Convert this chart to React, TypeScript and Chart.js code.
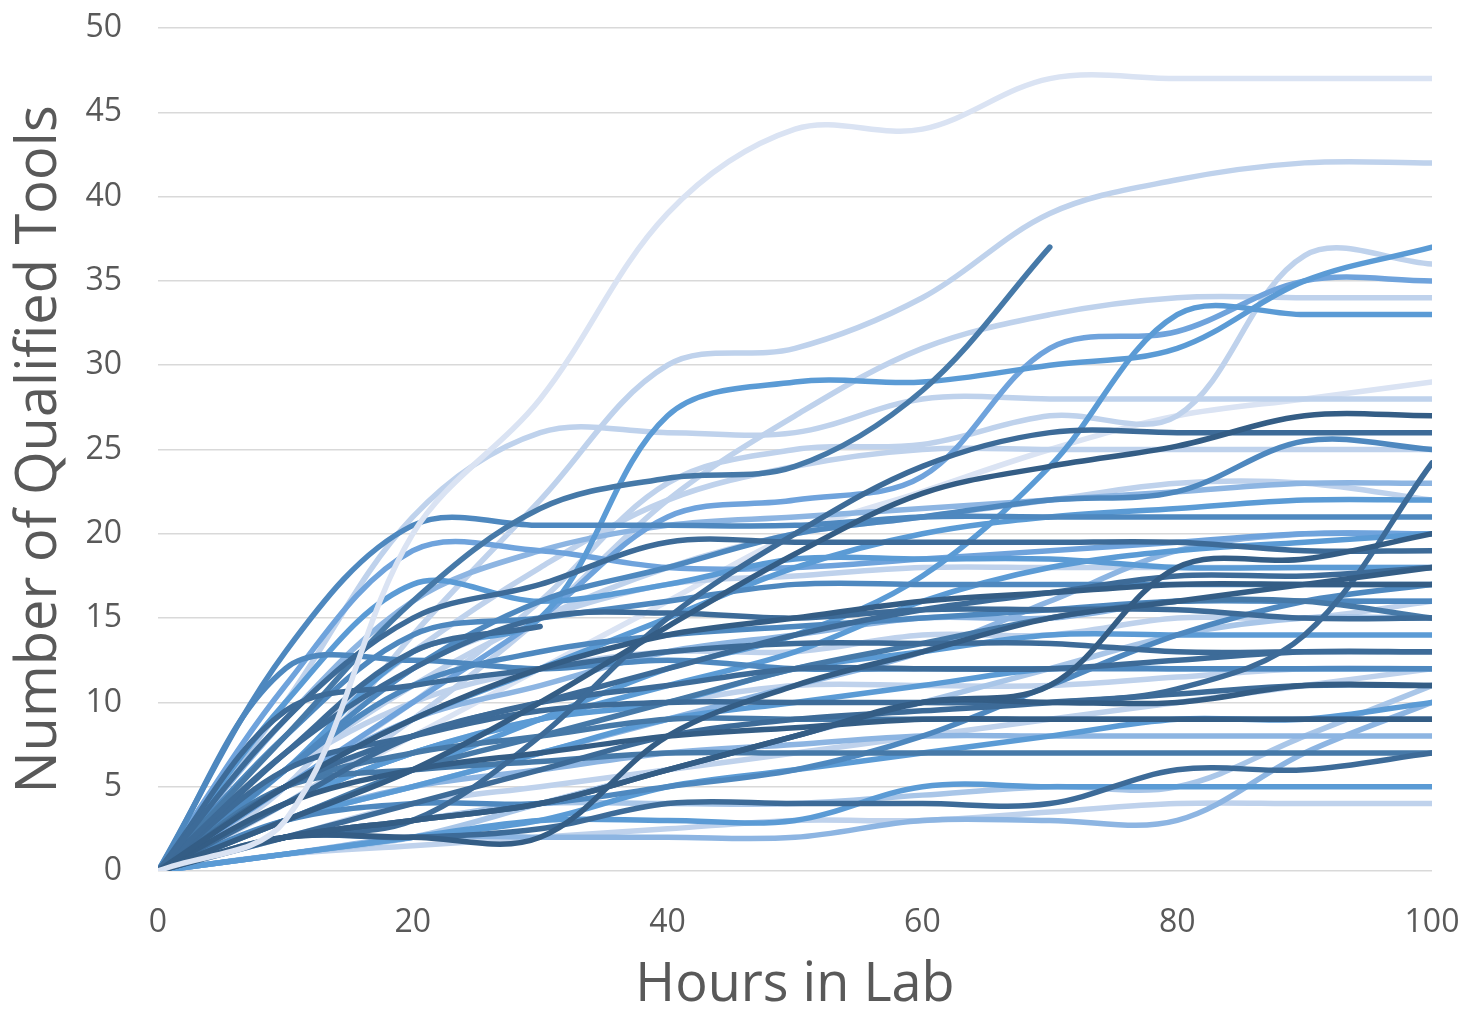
import React, { useEffect, useRef } from "react";
import { Chart, registerables } from "chart.js";

Chart.register(...registerables);

// X positions (hours) at which each run was recorded
const hours = [0, 10, 20, 30, 40, 50, 60, 70, 80, 90, 100];

// Cumulative qualified tools per run (one array per run)
const r01 = [0, 3, 20, 28, 39, 44, 44, 47, 47, 47, 47];
const r02 = [0, 5, 14, 22, 30, 31, 34, 39, 41, 42, 42];
const r03 = [0, 6, 13, 15, 27, 29, 29, 30, 31, 35, 37];
const r04 = [0, 8, 16, 21.5, 23.3, 24, 28.5, 37];
const r05 = [0, 4, 9, 15, 22, 27, 31, 33, 34, 34, 34];
const r06 = [0, 5, 10, 16, 23, 25, 25.3, 27, 27, 36.5, 36];
const r07 = [0, 5, 10, 15, 21, 22, 23.4, 31, 32, 35, 35];
const r08 = [0, 3, 6, 9, 12, 14, 17.5, 24, 33, 33, 33];
const r09 = [0, 10, 21, 26, 26, 26, 28, 28, 28, 28, 28];
const r10 = [0, 4, 8, 12, 16, 20, 22.5, 25, 27, 28, 29];
const r11 = [0, 3, 6, 10, 14.5, 18.8, 22.4, 24, 25.2, 27, 27];
const r12 = [0, 2, 3, 8, 15, 20, 24, 26, 26, 26, 26];
const r13 = [0, 6, 12, 16, 18, 20, 21, 22, 22.5, 25.5, 25];
const r14 = [0, 7, 13, 18, 22, 24, 25, 25, 25, 25, 25];
const r15 = [0, 2, 4, 6, 8, 9, 9.5, 10, 10.8, 14, 24.2];
const r16 = [0, 9, 16, 19, 20.5, 21, 21.5, 22, 22.5, 23, 23];
const r17 = [0, 6, 11, 15, 18, 20, 21, 22, 23, 23, 22];
const r18 = [0, 5, 9, 12, 15, 18, 20, 21, 21.5, 22, 22];
const r19 = [0, 13, 20.5, 20.5, 20.5, 20.5, 21, 21, 21, 21, 21];
const r20 = [0, 11, 19, 19, 18, 18, 18.5, 19, 19.5, 20, 20];
const r21 = [0, 9, 15, 17, 19.5, 19.5, 19.5, 19.5, 19.5, 19, 19];
const r22 = [0, 10, 17, 16, 17, 18.5, 18.5, 18.5, 18, 18, 18];
const r23 = [0, 6, 12, 15, 17, 17.5, 18, 18, 18, 18, 18];
const r24 = [0, 8, 14, 15, 16, 17, 17, 17, 17, 17, 17];
const r25 = [0, 2, 3, 4, 6, 8, 10, 11, 18, 18.5, 20];
const r26 = [0, 4, 7, 9, 11, 13, 16, 18, 19, 19.5, 20];
const r27 = [0, 3, 5, 7, 9, 11, 13, 16, 19, 20, 20];
const r28 = [0, 5, 9, 12, 14, 15, 16, 16.5, 17, 17, 17];
const r29 = [0, 4, 8, 10, 12, 14, 15.5, 16.5, 17.5, 17.5, 18];
const r30 = [0, 7, 12, 15, 15.3, 15, 15.5, 15.5, 15.5, 15, 15];
const r31 = [0, 6, 11, 13, 14, 14.5, 15, 15.5, 16, 16, 16];
const r32 = [0, 5, 9, 11, 13, 14, 15, 15, 16, 16, 16];
const r33 = [0, 3, 6, 8, 10, 12, 13.5, 15, 16, 16, 15];
const r34 = [0, 4, 7, 9, 10, 12, 13, 14, 14, 14, 14];
const r35 = [0, 5, 8, 10, 11, 12, 12, 12, 12.5, 13, 13];
const r36 = [0, 12, 12.5, 12, 12.5, 12, 12, 12, 12, 12, 12];
const r37 = [0, 9.5, 11, 12, 13, 13.5, 13.5, 13.5, 13, 13, 13];
const r38 = [0, 4, 7, 9, 10, 11, 11, 11, 11.5, 12, 12];
const r39 = [0, 3, 5, 7, 9, 10, 11, 12, 12, 12, 12];
const r40 = [0, 2, 3, 4, 6, 8, 10, 10, 10, 11, 11];
const r41 = [0, 6, 8, 9.5, 10, 10, 10, 10, 10.5, 11, 11];
const r42 = [0, 5, 7, 8, 9, 9, 9, 9, 9, 9, 9];
const r43 = [0, 4, 6, 7, 8, 8.5, 9, 9, 9, 9, 9];
const r44 = [0, 3, 5, 6, 7, 7.5, 8, 8, 8, 8, 8];
const r45 = [0, 1, 2, 3, 5, 6, 7, 8, 9, 9, 10];
const r46 = [0, 5, 6, 6.5, 7, 7, 7, 7, 7, 7, 7];
const r47 = [0, 2, 2, 2.5, 4, 4, 4, 4, 6, 6, 7];
const r48 = [0, 1, 2, 3, 3, 3, 5, 5, 5, 5, 5];
const r49 = [0, 1, 1.5, 2, 2.5, 3, 3, 3.5, 4, 4, 4];
const r50 = [0, 1, 2, 2, 2, 2, 3, 3, 3, 7, 10];
const r51 = [0, 2, 3, 4, 4, 4, 4.5, 5, 5, 8, 11];
const r52 = [0, 2, 4, 5, 6, 7, 8, 9, 10, 11, 12];
const r53 = [0, 2, 2, 2, 8, 11, 13, 15, 16, 17, 18];
const r54 = [0, 3, 4, 4, 5, 6, 8, 11, 14, 16, 17];
const r55 = [0, 10];
const r56 = [0, 7, 13, 14.5];
const r57 = [0, 1, 2, 4, 6, 8, 10, 12, 14, 15, 15];
const r58 = [0, 6, 10, 12, 13, 13, 14, 14, 15, 15, 16];

const runs = [
  r01, r02, r03, r04, r05, r06, r07, r08, r09, r10,
  r11, r12, r13, r14, r15, r16, r17, r18, r19, r20,
  r21, r22, r23, r24, r25, r26, r27, r28, r29, r30,
  r31, r32, r33, r34, r35, r36, r37, r38, r39, r40,
  r41, r42, r43, r44, r45, r46, r47, r48, r49, r50,
  r51, r52, r53, r54, r55, r56, r57, r58,
];

// Blue shades, dark to light
const shades = [
  "#345d85", "#3d6b98", "#4679a8", "#4e88bf", "#5b9bd5",
  "#6fa3dc", "#8db5e2", "#a9c6e8", "#bfd2ec", "#dae3f3",
];
// Shade index per run
const runShade = [
  9, 8, 4, 2, 8, 8, 5, 4, 8, 9,
  0, 1, 3, 8, 1, 6, 8, 4, 3, 5,
  1, 4, 8, 3, 0, 4, 6, 0, 1, 1,
  3, 6, 2, 4, 1, 3, 1, 8, 4, 0,
  1, 2, 0, 6, 4, 2, 1, 4, 8, 6,
  7, 8, 0, 3, 7, 1, 7, 8,
];

const xTicks = [0, 20, 40, 60, 80, 100];
const yTicks = [0, 5, 10, 15, 20, 25, 30, 35, 40, 45, 50];

const FONT = "'Open Sans', 'DejaVu Sans', sans-serif";
const TEXT = "#595959";

export default function App() {
  const ref = useRef<HTMLCanvasElement | null>(null);

  useEffect(() => {
    const canvas = ref.current;
    if (!canvas) return;
    // draw order: lightest top run first (on top), then darker runs above lighter ones
    const idx = runs.map((_, i) => i).sort((a, b) => {
      if (a === 0) return -1;
      if (b === 0) return 1;
      return runShade[a] - runShade[b];
    });
    const datasets = idx.map((i) => ({
      label: "run " + (i + 1),
      data: runs[i].map((v, j) => ({ x: hours[j], y: v })),
      borderColor: shades[runShade[i]],
      backgroundColor: shades[runShade[i]],
      borderWidth: 5.5,
      pointRadius: 0,
      pointHoverRadius: 0,
      tension: 0.35,
      fill: false,
      borderCapStyle: "round" as const,
      borderJoinStyle: "round" as const,
    }));

    const chart = new Chart(canvas, {
      type: "line",
      data: { datasets },
      options: {
        animation: false,
        responsive: false,
        events: [],
        layout: { padding: { top: 28, right: 38, left: 0, bottom: 0 } },
        plugins: { legend: { display: false }, tooltip: { enabled: false } },
        scales: {
          x: {
            type: "linear",
            min: 0,
            max: 100,
            afterBuildTicks: (s: any) => {
              s.ticks = xTicks.map((v) => ({ value: v }));
            },
            ticks: {
              color: TEXT,
              padding: 33,
              maxRotation: 0,
              font: { family: FONT, size: 32 },
            },
            grid: { display: false, drawTicks: false },
            border: { display: false },
            title: {
              display: true,
              text: "Hours in Lab",
              color: TEXT,
              font: { family: FONT, size: 54, lineHeight: 1 },
              padding: { top: 0, bottom: 0 },
            },
            afterFit: (s: any) => {
              s.height = 142;
              s.paddingLeft = 0;
              s.paddingRight = 0;
            },
          },
          y: {
            type: "linear",
            min: 0,
            max: 50,
            afterBuildTicks: (s: any) => {
              s.ticks = yTicks.map((v) => ({ value: v }));
            },
            ticks: {
              color: TEXT,
              padding: 36,
              font: { family: FONT, size: 32 },
            },
            grid: { color: "#d9d9d9", lineWidth: 1.5, drawTicks: false },
            border: { display: false },
            title: {
              display: true,
              text: "Number of Qualified Tools",
              color: TEXT,
              font: { family: FONT, size: 56, lineHeight: 1 },
              padding: { top: 12, bottom: 0 },
            },
            afterFit: (s: any) => {
              s.width = 158;
              s.paddingTop = 0;
              s.paddingBottom = 0;
            },
          },
        },
      },
    });
    return () => chart.destroy();
  }, []);

  return (
    <div
      style={{
        position: "fixed",
        left: 0,
        top: 0,
        width: 1470,
        height: 1013,
        background: "#ffffff",
      }}
    >
      <canvas ref={ref} width={1470} height={1013} style={{ display: "block" }} />
    </div>
  );
}
